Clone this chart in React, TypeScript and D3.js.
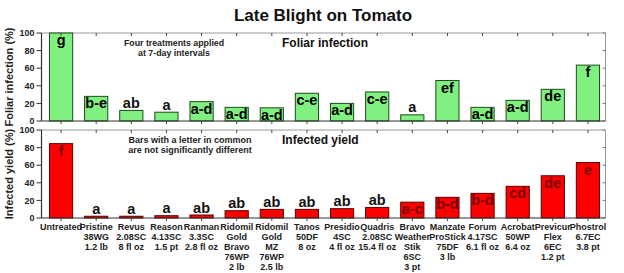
import React from "react";
import * as d3 from "d3";

const categories: string[][] = [
  ["Untreated"],
  ["Pristine", "38WG", "1.2 lb"],
  ["Revus", "2.08SC", "8 fl oz"],
  ["Reason", "4.13SC", "1.5 pt"],
  ["Ranman", "3.3SC", "2.8 fl oz"],
  ["Ridomil", "Gold", "Bravo", "76WP", "2 lb"],
  ["Ridomil", "Gold", "MZ", "76WP", "2.5 lb"],
  ["Tanos", "50DF", "8 oz"],
  ["Presidio", "4SC", "4 fl oz"],
  ["Quadris", "2.08SC", "15.4 fl oz"],
  ["Bravo", "Weather", "Stik", "6SC", "3 pt"],
  ["Manzate", "ProStick", "75DF", "3 lb"],
  ["Forum", "4.17SC", "6.1 fl oz"],
  ["Acrobat", "50WP", "6.4 oz"],
  ["Previcur", "Flex", "6EC", "1.2 pt"],
  ["Phostrol", "6.7EC", "3.8 pt"],
];

const foliar: number[] = [100, 28, 12, 10, 22, 15.5, 15, 31.5, 20, 33, 7, 46, 15.5, 23.5, 36, 63.5];
const foliarLetters: string[] = ["g", "b-e", "ab", "a", "a-d", "a-d", "a-d", "c-e", "a-d", "c-e", "a", "ef", "a-d", "a-d", "de", "f"];

const yieldVals: number[] = [84.5, 2, 2, 2.6, 3.4, 8.3, 9.8, 9.8, 10.6, 12, 18, 23.5, 28, 36, 48, 63];
const yieldLetters: string[] = ["f", "a", "a", "a", "ab", "ab", "ab", "ab", "ab", "ab", "a-c", "b-d", "b-d", "cd", "de", "e"];

const yTicks: number[] = [0, 20, 40, 60, 80, 100];

const FONT = "'Liberation Sans', Arial, sans-serif";

export default function App() {
  const W = 624, H = 273;
  const left = 41.5, right = 605.5;
  const keys = categories.map((_, i) => String(i));
  const x = d3.scaleBand<string>().domain(keys).range([43.5, 605.5]).padding(0);
  const bw = x.bandwidth() * 0.66;
  const cx = (i: number) => (x(String(i)) as number) + x.bandwidth() / 2;

  const panels = [
    { y: d3.scaleLinear().domain([0, 100]).range([121, 33]), vals: foliar, letters: foliarLetters, fill: "#80F080", stroke: "#1f4a1f", inText: "#000", label: "Foliar infection (%)", heading: "Foliar infection", note: ["Four treatments applied", "at 7-day intervals"] },
    { y: d3.scaleLinear().domain([0, 100]).range([218, 130]), vals: yieldVals, letters: yieldLetters, fill: "#FF0000", stroke: "#5a0000", inText: "#780000", label: "Infected yield (%)", heading: "Infected yield", note: ["Bars with a letter in common", "are not significantly different"] },
  ];

  return (
    <svg width={W} height={H} style={{ position: "absolute", left: 0, top: 0, background: "#fff" }} fontFamily={FONT}>
      <rect width={W} height={H} fill="#fff" />
      <text x={323} y={21} textAnchor="middle" fontSize={17} fontWeight="bold" fill="#111">Late Blight on Tomato</text>
      {panels.map((p, pi) => {
        const [y0, y1] = p.y.range();
        const mid = (y0 + y1) / 2;
        return (
          <g key={pi}>
            <line x1={left} x2={right} y1={y1} y2={y1} stroke="#999" strokeWidth={1} />
            <line x1={right} x2={right} y1={y1} y2={y0} stroke="#999" strokeWidth={1} />
            {p.vals.map((v, i) => (
              <rect key={i} x={cx(i) - bw / 2} y={p.y(v)} width={bw} height={y0 - p.y(v)} fill={p.fill} stroke={p.stroke} strokeWidth={1} />
            ))}
            {p.vals.map((v, i) => {
              const h = y0 - p.y(v);
              const inside = h >= 12;
              return (
                <text key={"l" + i} x={cx(i)} y={inside ? p.y(v) + 12 : p.y(v) - 2.5} textAnchor="middle" fontSize={14.5} fontWeight="bold" fill={inside ? p.inText : "#111"}>{p.letters[i]}</text>
              );
            })}
            <line x1={left} x2={right} y1={y0} y2={y0} stroke="#333" strokeWidth={1.2} />
            <line x1={left} x2={left} y1={y1} y2={y0} stroke="#333" strokeWidth={1.2} />
            {keys.map((_, i) => (
              <g key={"t" + i} stroke="#444" strokeWidth={1}>
                <line x1={cx(i)} x2={cx(i)} y1={y1} y2={y1 + 3} />
                <line x1={cx(i)} x2={cx(i)} y1={y0} y2={y0 + 3} />
              </g>
            ))}
            {yTicks.map((t) => (
              <g key={"y" + t}>
                <line x1={left - 5} x2={left} y1={p.y(t)} y2={p.y(t)} stroke="#333" />
                <line x1={right - 3} x2={right} y1={p.y(t)} y2={p.y(t)} stroke="#777" />
                <text x={left - 7} y={p.y(t) + 3.2} textAnchor="end" fontSize={9} fontWeight="bold" fill="#222">{t}</text>
              </g>
            ))}
            <text transform={`translate(13,${mid}) rotate(-90)`} textAnchor="middle" fontSize={11} fontWeight="bold" fill="#222">{p.label}</text>
            <text x={282} y={y1 + 14} fontSize={12} fontWeight="bold" fill="#111">{p.heading}</text>
            {p.note.map((s, k) => (
              <text key={"n" + k} x={pi === 0 ? 174 : 190} y={y1 + 13 + k * 9.5} textAnchor="middle" fontSize={pi === 0 ? 8.8 : 9} fontWeight="bold" fill="#222">{s}</text>
            ))}
          </g>
        );
      })}
      {categories.map((lines, i) => (
        <text key={"c" + i} x={cx(i)} textAnchor="middle" fontSize={9} fontWeight="bold" fill="#222">
          {lines.map((s, k) => (
            <tspan key={k} x={cx(i)} y={230 + k * 10}>{s}</tspan>
          ))}
        </text>
      ))}
    </svg>
  );
}
